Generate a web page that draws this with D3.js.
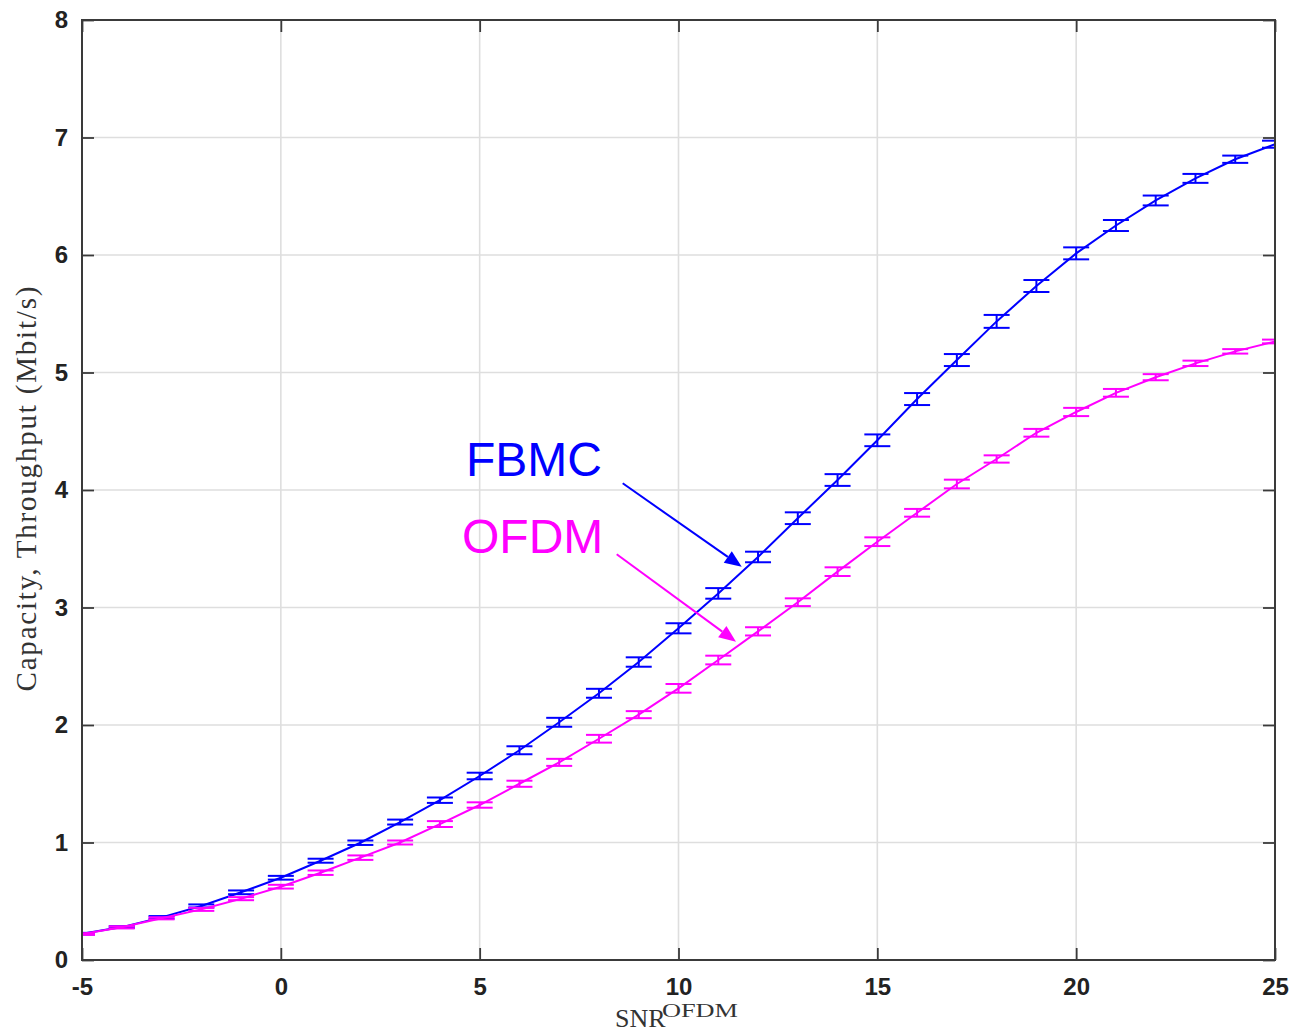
<!DOCTYPE html>
<html>
<head>
<meta charset="utf-8">
<script src="https://cdn.jsdelivr.net/npm/d3@7"></script>
<style>
  html, body { margin: 0; padding: 0; background: #ffffff; }
  svg { display: block; }
</style>
</head>
<body>
<svg id="chart" width="1293" height="1034"></svg>
<script>
// SNR grid (dB)
const snr = [-5,-4,-3,-2,-1,0,1,2,3,4,5,6,7,8,9,10,11,12,13,14,15,16,17,18,19,20,21,22,23,24,25];

// Mean capacity/throughput (Mbit/s)
const fbmcMean = [0.224,0.280,0.363,0.460,0.576,0.700,0.845,0.998,1.174,1.360,1.566,1.785,2.023,2.270,2.536,2.823,3.120,3.430,3.760,4.085,4.423,4.774,5.106,5.435,5.736,6.014,6.251,6.464,6.652,6.815,6.943];
const ofdmMean = [0.221,0.278,0.355,0.431,0.522,0.624,0.743,0.871,1.000,1.157,1.319,1.500,1.682,1.883,2.088,2.312,2.553,2.797,3.045,3.305,3.560,3.806,4.051,4.264,4.487,4.664,4.827,4.960,5.078,5.180,5.264];

// Confidence half-widths (Mbit/s)
const fbmcErr = [0.007,0.008,0.011,0.013,0.016,0.016,0.017,0.019,0.021,0.023,0.028,0.034,0.038,0.038,0.040,0.043,0.045,0.045,0.050,0.050,0.050,0.051,0.051,0.055,0.051,0.051,0.047,0.042,0.038,0.031,0.030];
const ofdmErr = [0.007,0.009,0.009,0.013,0.013,0.016,0.019,0.019,0.017,0.025,0.023,0.026,0.030,0.033,0.030,0.037,0.037,0.035,0.033,0.037,0.037,0.033,0.037,0.031,0.033,0.035,0.033,0.026,0.023,0.019,0.016];

// Axis ticks
const xTicks = [-5,0,5,10,15,20,25];
const yTicks = [0,1,2,3,4,5,6,7,8];

const series = [
  { name: "FBMC", color: "#0000ff", mean: fbmcMean, err: fbmcErr },
  { name: "OFDM", color: "#ff00ff", mean: ofdmMean, err: ofdmErr }
];

const svg = d3.select("#chart");
const plot = { left: 82, right: 1275, top: 20, bottom: 960 };

const x = d3.scaleLinear().domain([-5, 25]).range([plot.left, plot.right]);
const y = d3.scaleLinear().domain([0, 8]).range([plot.bottom, plot.top]);

const axisColor = "#3a3a3a";
const gridColor = "#dedede";

svg.append("defs").append("clipPath").attr("id", "plot-clip")
  .append("rect")
  .attr("x", plot.left).attr("y", plot.top)
  .attr("width", plot.right - plot.left).attr("height", plot.bottom - plot.top);

// Grid lines
const grid = svg.append("g");
grid.selectAll("line.gx").data(xTicks.slice(1, -1)).join("line")
  .attr("x1", d => x(d)).attr("x2", d => x(d))
  .attr("y1", plot.top).attr("y2", plot.bottom)
  .attr("stroke", gridColor).attr("stroke-width", 1.6);
grid.selectAll("line.gy").data(yTicks.slice(1, -1)).join("line")
  .attr("x1", plot.left).attr("x2", plot.right)
  .attr("y1", d => y(d)).attr("y2", d => y(d))
  .attr("stroke", gridColor).attr("stroke-width", 1.6);

// Axes with inward ticks on all four sides
const tickLen = 12;
const plain = d => String(d);
function styleAxis(g) {
  g.select(".domain").remove();
  g.selectAll(".tick line").attr("stroke", axisColor).attr("stroke-width", 1.8);
  g.selectAll(".tick text")
    .attr("fill", "#222222")
    .attr("font-family", "'Liberation Sans', Arial, Helvetica, sans-serif")
    .attr("font-weight", "bold")
    .attr("font-size", 24);
}
svg.append("g").attr("transform", `translate(0,${plot.bottom})`)
  .call(d3.axisBottom(x).tickValues(xTicks).tickSize(-tickLen).tickPadding(18).tickFormat(plain))
  .call(styleAxis);
svg.append("g").attr("transform", `translate(0,${plot.top})`)
  .call(d3.axisTop(x).tickValues(xTicks).tickSize(-tickLen).tickFormat(""))
  .call(styleAxis);
svg.append("g").attr("transform", `translate(${plot.left},0)`)
  .call(d3.axisLeft(y).tickValues(yTicks).tickSize(-tickLen).tickPadding(14).tickFormat(plain))
  .call(styleAxis);
svg.append("g").attr("transform", `translate(${plot.right},0)`)
  .call(d3.axisRight(y).tickValues(yTicks).tickSize(-tickLen).tickFormat(""))
  .call(styleAxis);

// Data lines and error bars
const capHalf = 13;
const dataLayer = svg.append("g").attr("clip-path", "url(#plot-clip)");
series.forEach(s => {
  const pts = snr.map((v, i) => ({ x: v, m: s.mean[i], e: s.err[i] }));
  const g = dataLayer.append("g");
  g.append("path")
    .datum(pts)
    .attr("fill", "none")
    .attr("stroke", s.color)
    .attr("stroke-width", 2)
    .attr("d", d3.line().x(d => x(d.x)).y(d => y(d.m)));
  const eb = g.selectAll("g.eb").data(pts).join("g").attr("stroke", s.color).attr("stroke-width", 2);
  eb.append("line")
    .attr("x1", d => x(d.x)).attr("x2", d => x(d.x))
    .attr("y1", d => y(d.m - d.e)).attr("y2", d => y(d.m + d.e));
  eb.append("line")
    .attr("x1", d => x(d.x) - capHalf).attr("x2", d => x(d.x) + capHalf)
    .attr("y1", d => y(d.m - d.e)).attr("y2", d => y(d.m - d.e));
  eb.append("line")
    .attr("x1", d => x(d.x) - capHalf).attr("x2", d => x(d.x) + capHalf)
    .attr("y1", d => y(d.m + d.e)).attr("y2", d => y(d.m + d.e));
});

// Axes box
svg.append("rect")
  .attr("x", plot.left).attr("y", plot.top)
  .attr("width", plot.right - plot.left).attr("height", plot.bottom - plot.top)
  .attr("fill", "none").attr("stroke", axisColor).attr("stroke-width", 2);

// Axis labels
svg.append("text")
  .attr("transform", `translate(36,${(285 + 693) / 2}) rotate(-90)`)
  .attr("text-anchor", "middle")
  .attr("font-family", "'Liberation Serif', 'Times New Roman', serif")
  .attr("font-size", 29)
  .attr("fill", "#333333")
  .attr("textLength", 405)
  .attr("lengthAdjust", "spacing")
  .text("Capacity, Throughput (Mbit/s)");

const xl = svg.append("text")
  .attr("font-family", "'Liberation Serif', 'Times New Roman', serif")
  .attr("fill", "#333333");
xl.append("tspan").attr("x", 615).attr("y", 1027).attr("font-size", 26).text("SNR");
xl.append("tspan").attr("x", 662).attr("y", 1017).attr("font-size", 18)
  .attr("textLength", 76).attr("lengthAdjust", "spacingAndGlyphs").text("OFDM");

// Annotations with arrows
const notes = [
  { text: "FBMC", color: "#0000ff", tx: 466, ty: 476, from: [622.7, 483.3], to: [741.7, 566.7] },
  { text: "OFDM", color: "#ff00ff", tx: 462, ty: 553, from: [616.7, 554.3], to: [736, 641.7] }
];
notes.forEach(n => {
  svg.append("text")
    .attr("x", n.tx).attr("y", n.ty)
    .attr("font-family", "'Liberation Sans', Arial, Helvetica, sans-serif")
    .attr("font-size", 48)
    .attr("fill", n.color)
    .text(n.text);
  const dx = n.to[0] - n.from[0], dy = n.to[1] - n.from[1];
  const len = Math.hypot(dx, dy);
  const ux = dx / len, uy = dy / len;
  const headLen = 17, headHalf = 7;
  const bx = n.to[0] - ux * headLen, by = n.to[1] - uy * headLen;
  svg.append("line")
    .attr("x1", n.from[0]).attr("y1", n.from[1])
    .attr("x2", bx).attr("y2", by)
    .attr("stroke", n.color).attr("stroke-width", 2);
  svg.append("path")
    .attr("d", d3.line()([
      n.to,
      [bx - uy * headHalf, by + ux * headHalf],
      [bx + uy * headHalf, by - ux * headHalf]
    ]) + "Z")
    .attr("fill", n.color);
});
</script>
</body>
</html>
